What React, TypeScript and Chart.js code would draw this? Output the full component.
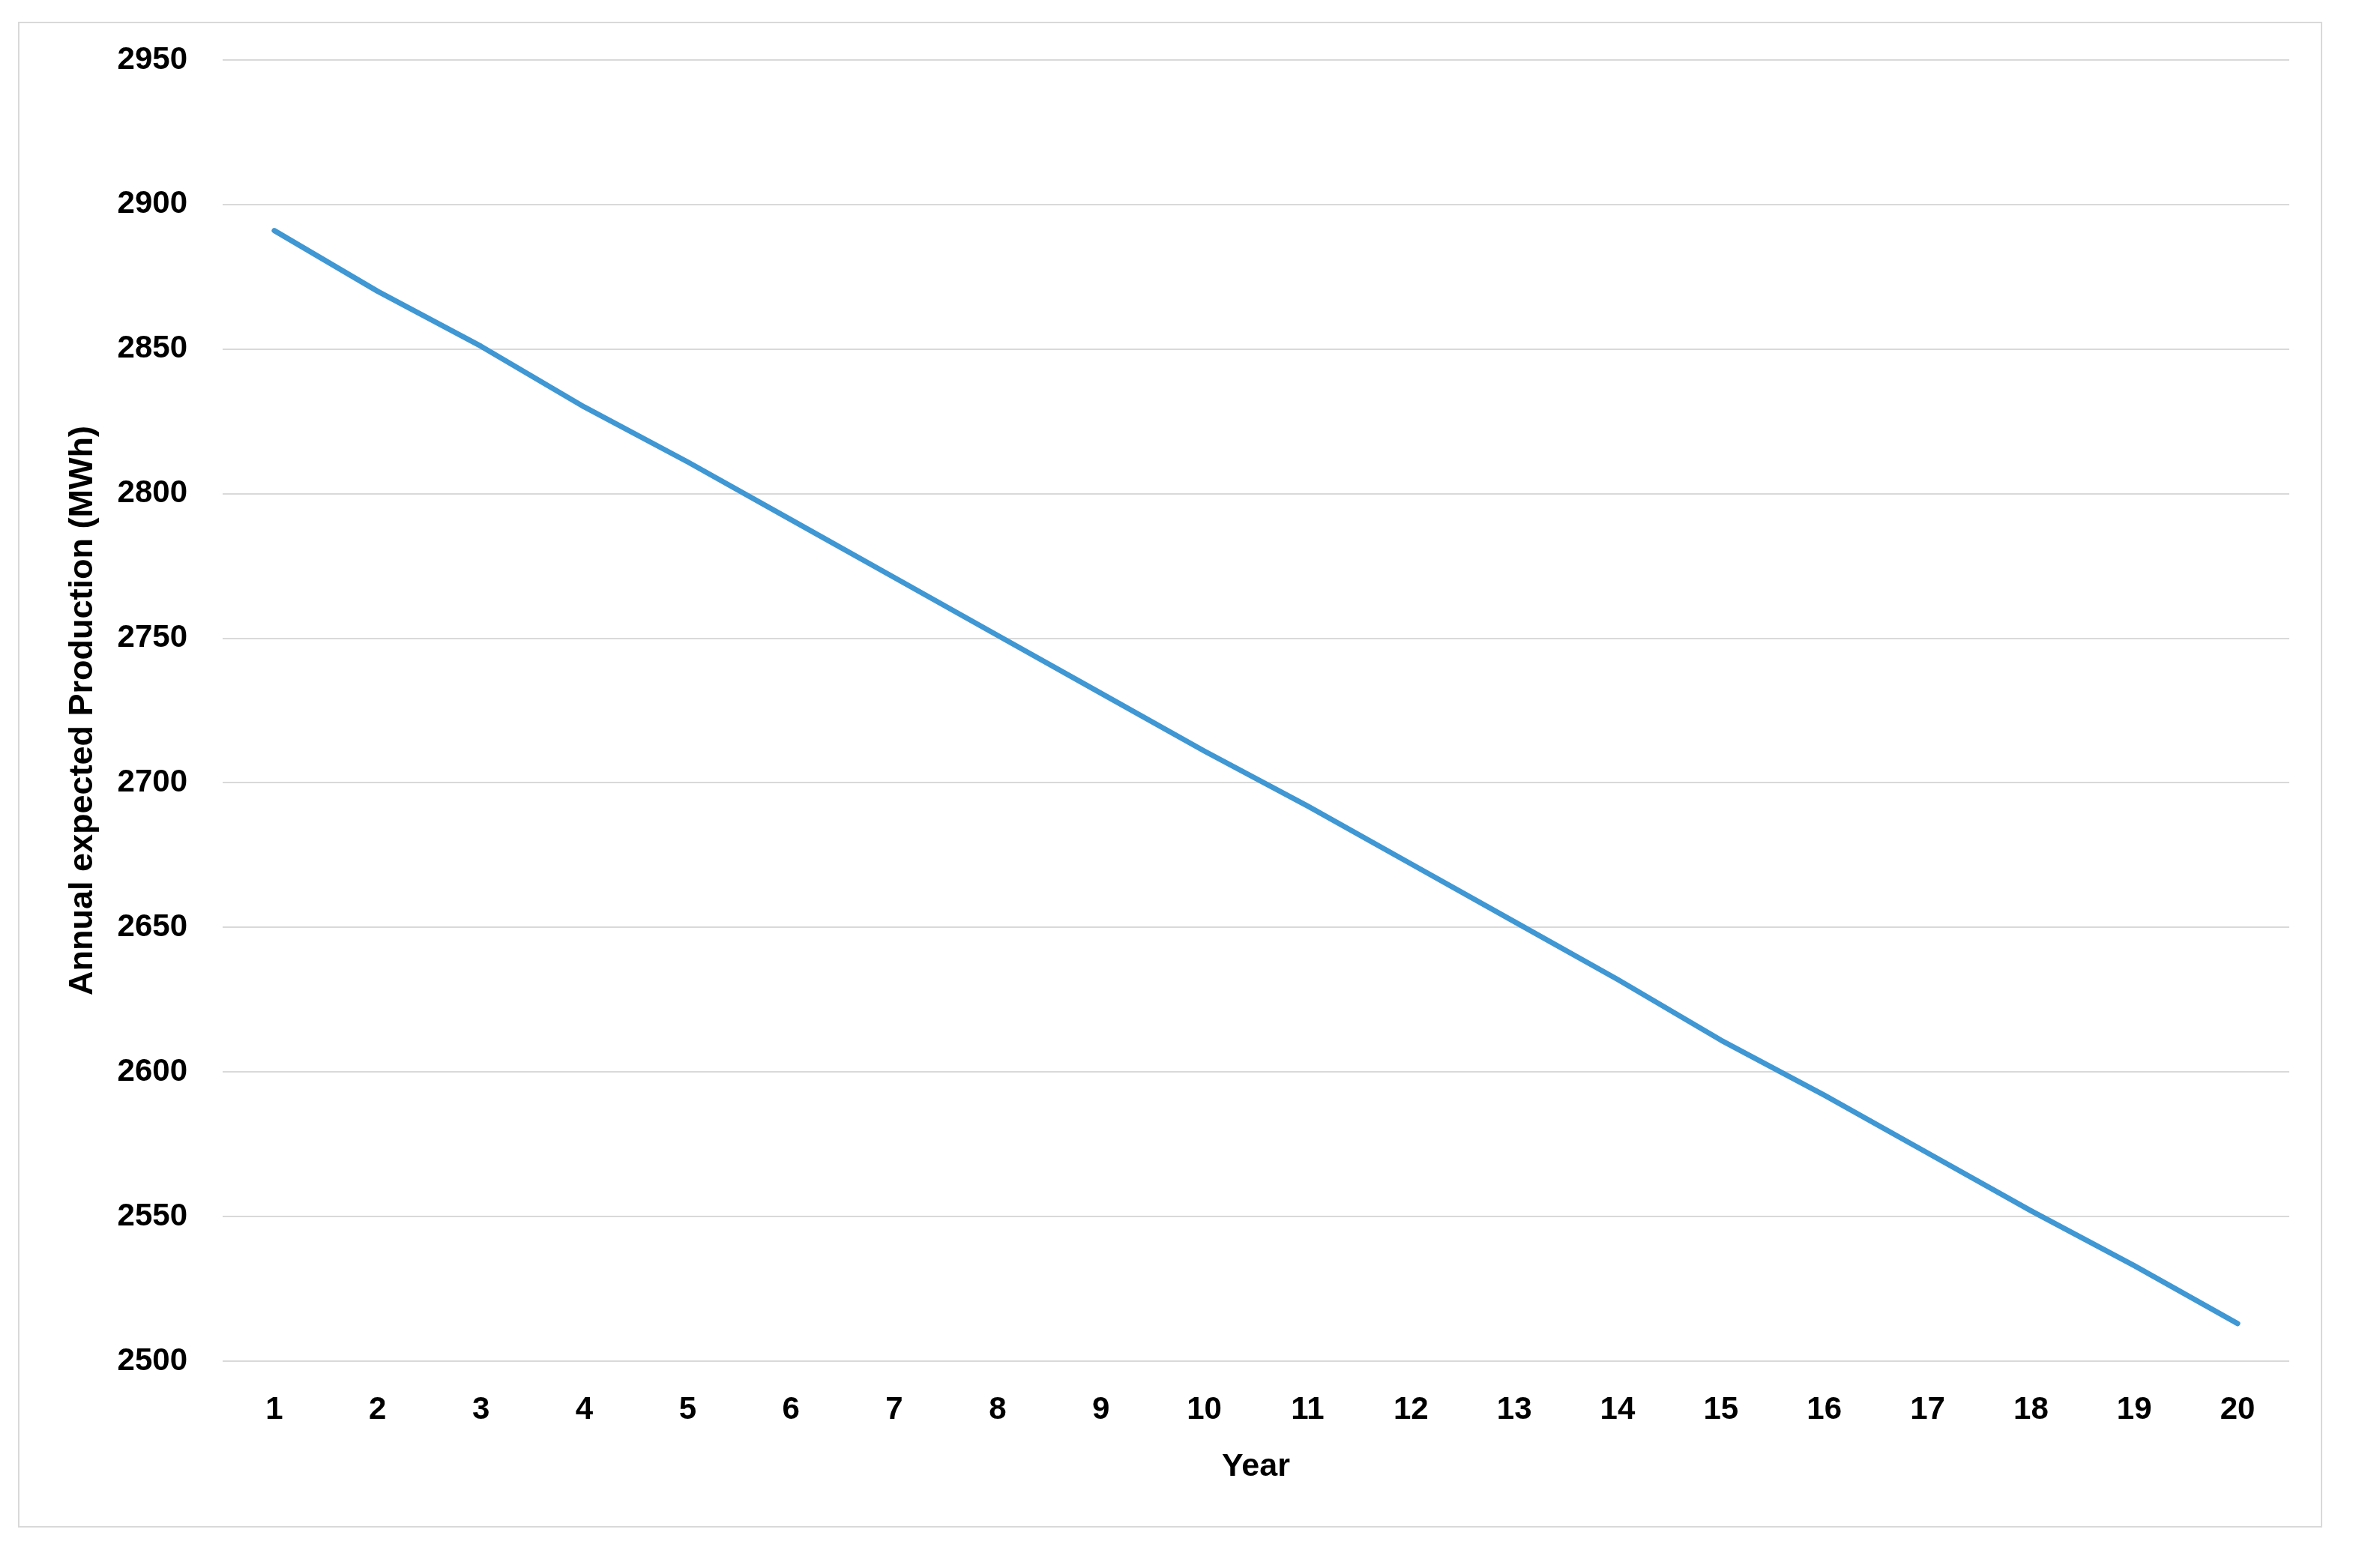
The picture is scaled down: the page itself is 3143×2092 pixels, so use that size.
import React, { useEffect, useRef } from "react";
import { Chart, registerables } from "chart.js";

Chart.register(...registerables);

const years: string[] = [
  "1", "2", "3", "4", "5", "6", "7", "8", "9", "10",
  "11", "12", "13", "14", "15", "16", "17", "18", "19", "20",
];
const production: number[] = [
  2891, 2870, 2851, 2830, 2811, 2791, 2771, 2751, 2731, 2711,
  2692, 2672, 2652, 2632, 2611, 2592, 2572, 2552, 2533, 2513,
];
const yMin = 2500;
const yMax = 2950;
const yStep = 50;
const xTitle = "Year";
const yTitle = "Annual expected Production (MWh)";

const W = 3143;
const H = 2092;
const FONT = "'Liberation Sans', Arial, sans-serif";

export default function App() {
  const ref = useRef<HTMLCanvasElement | null>(null);

  useEffect(() => {
    if (!ref.current) return;
    const chart = new Chart(ref.current, {
      type: "line",
      data: {
        labels: years,
        datasets: [
          {
            label: yTitle,
            data: production,
            borderColor: "#3F97D3",
            borderWidth: 7,
            borderCapStyle: "round",
            borderJoinStyle: "round",
            pointRadius: 0,
            tension: 0,
            fill: false,
          },
        ],
      },
      options: {
        responsive: false,
        animation: false,
        devicePixelRatio: 1,
        layout: { padding: { left: 84, right: 89, top: 80, bottom: 0 } },
        plugins: {
          legend: { display: false },
          tooltip: { enabled: false },
          title: { display: false },
        },
        scales: {
          x: {
            type: "category",
            offset: true,
            grid: { display: false, drawTicks: false },
            border: { display: false },
            ticks: {
              color: "#000000",
              font: { family: FONT, size: 42, weight: "bold" },
              padding: 40,
              maxRotation: 0,
              autoSkip: false,
            },
            title: {
              display: true,
              text: xTitle,
              color: "#000000",
              font: { family: FONT, size: 43, weight: "bold" },
              padding: { top: 0, bottom: 109 },
            },
            afterFit: (scale: any) => {
              scale.height = H - 1816;
            },
          },
          y: {
            min: yMin,
            max: yMax,
            grid: { color: "#D9D9D9", lineWidth: 2, drawTicks: false },
            border: { display: false },
            ticks: {
              stepSize: yStep,
              color: "#000000",
              font: { family: FONT, size: 42, weight: "bold" },
              padding: 47,
              callback: (v: any) => String(v),
            },
            title: {
              display: true,
              text: yTitle,
              color: "#000000",
              font: { family: FONT, size: 45, weight: "bold" },
              padding: { top: 0, bottom: 0 },
            },
            afterFit: (scale: any) => {
              scale.width = 297 - 84;
            },
          },
        },
      },
    });
    return () => chart.destroy();
  }, []);

  return (
    <div style={{ position: "fixed", left: 0, top: 0, width: W, height: H, background: "#ffffff" }}>
      <div
        style={{
          position: "absolute",
          left: 24,
          top: 29,
          width: 3098 - 24,
          height: 2038 - 29,
          border: "2px solid #D9D9D9",
          boxSizing: "border-box",
        }}
      />
      <canvas ref={ref} width={W} height={H} style={{ position: "absolute", left: 0, top: 0 }} />
    </div>
  );
}
